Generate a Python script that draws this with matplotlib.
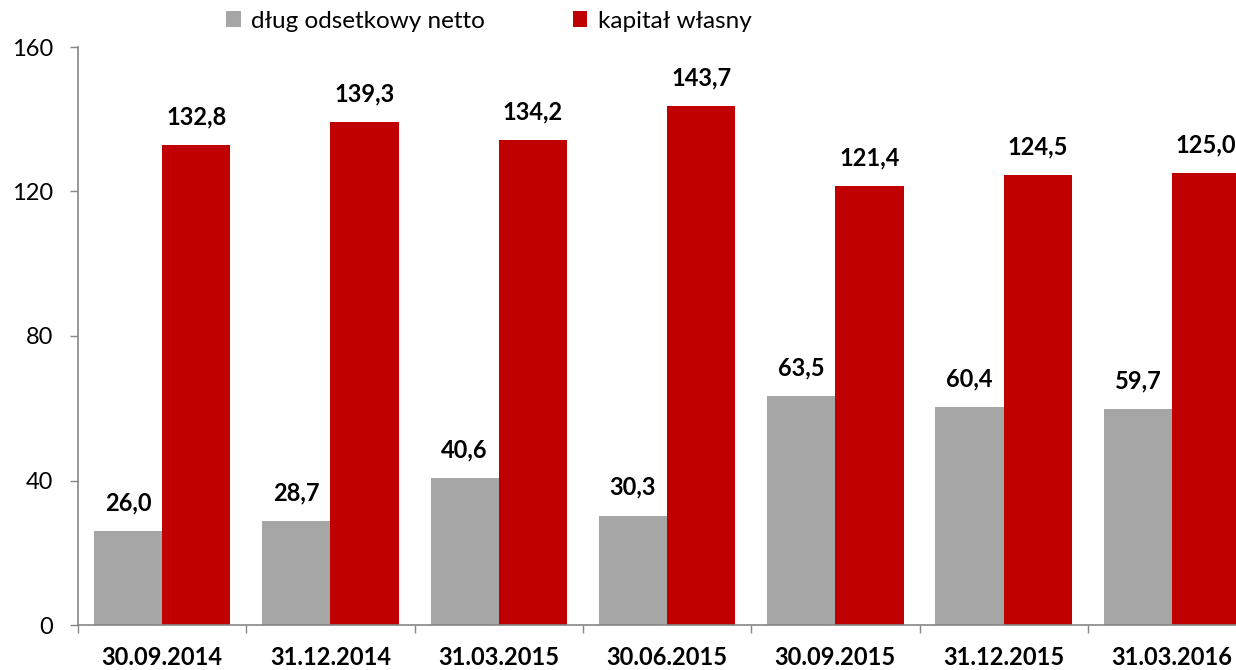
import matplotlib
matplotlib.use("Agg")
import matplotlib.pyplot as plt
import numpy as np

categories = ["30.09.2014", "31.12.2014", "31.03.2015", "30.06.2015", "30.09.2015", "31.12.2015", "31.03.2016"]
debt = [26.0, 28.7, 40.6, 30.3, 63.5, 60.4, 59.7]
equity = [132.8, 139.3, 134.2, 143.7, 121.4, 124.5, 125.0]
series_names = ["dług odsetkowy netto", "kapitał własny"]
yticks = [0, 40, 80, 120, 160]

plt.rcParams['font.family'] = ['Lato', 'DejaVu Sans']

fig = plt.figure(figsize=(12.36, 6.7), dpi=100)
W, H = 1236, 670
cat_w = 168.3
ax = fig.add_axes([78 / W, 45 / H, 7 * cat_w / W, 578 / H])

x = np.arange(len(categories))
bw = 0.405
gray = "#A6A6A6"
red = "#C00000"
b1 = ax.bar(x - bw / 2, debt, bw, color=gray, label=series_names[0])
b2 = ax.bar(x + bw / 2, equity, bw, color=red, label=series_names[1])

def fmt(v):
    return f"{v:.1f}".replace(".", ",")

for xs, vals in ((x - bw / 2, debt), (x + bw / 2, equity)):
    for xi, v in zip(xs, vals):
        ax.annotate(fmt(v), (xi, v), xytext=(0, 12), textcoords="offset points",
                    ha="center", va="bottom", fontsize=17, fontweight="bold", color="black")

ax.set_xlim(-0.5, len(categories) - 0.5)
ax.set_ylim(0, 160)
ax.set_yticks(yticks)
ax.set_yticklabels([str(t) for t in yticks], fontsize=17)
ax.set_xticks(x)
ax.set_xticklabels(categories, fontsize=17, fontweight="bold")
ax.tick_params(axis="x", length=0, pad=15)
ax.tick_params(axis="y", length=6, color="#868686", pad=12, width=1)
ax.set_xticks(np.arange(len(categories) + 1) - 0.5, minor=True)
ax.tick_params(axis="x", which="minor", length=6, color="#868686", width=1)

for s in ["top", "right"]:
    ax.spines[s].set_visible(False)
for s in ["left", "bottom"]:
    ax.spines[s].set_color("#868686")
    ax.spines[s].set_linewidth(1.2)

leg = fig.legend(handles=[b1, b2], loc="center", bbox_to_anchor=(489 / W, 1 - 21 / H),
                 ncol=2, frameon=False, fontsize=17.5, handlelength=0.6, handleheight=0.6,
                 handletextpad=0.45, columnspacing=3.6)

fig.savefig("out.png", dpi=100)
